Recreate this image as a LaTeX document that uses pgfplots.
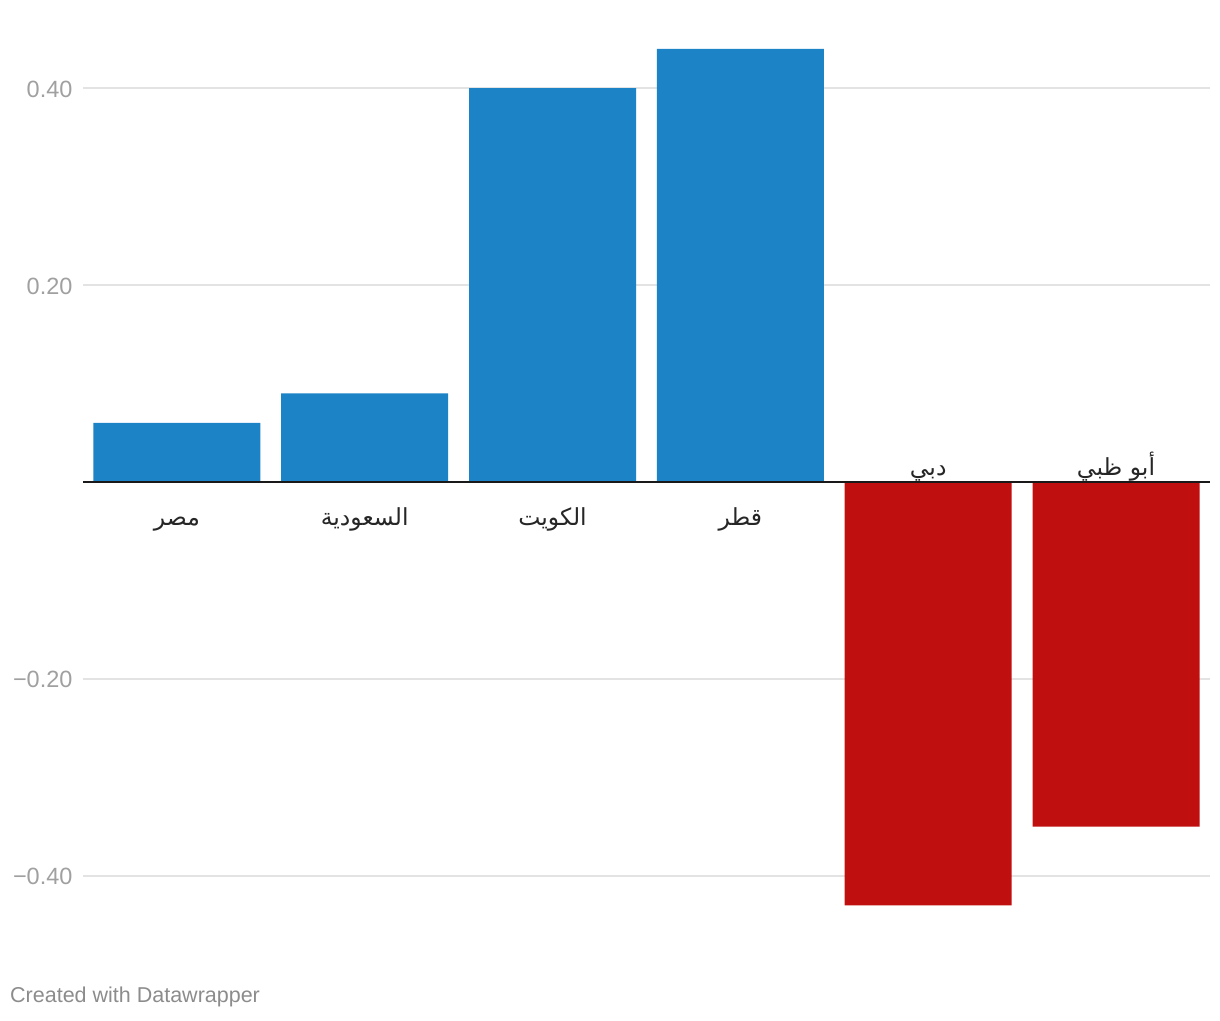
\documentclass[border=0pt]{standalone}
\usepackage{fontspec}
\setmainfont{Liberation Sans}
\newfontfamily\arabicfont[Script=Arabic]{DejaVu Sans}
\TeXXeTstate=1
\usepackage{pgfplots}
\pgfplotsset{compat=1.18}
\definecolor{barblue}{HTML}{1C83C6}
\definecolor{barred}{HTML}{C00F0F}
\definecolor{gridgray}{HTML}{E3E3E3}
\definecolor{ticktext}{HTML}{A0A0A0}
\definecolor{credit}{HTML}{8C8C8C}
\begin{document}
\begin{tikzpicture}[x=1pt,y=1pt]
\useasboundingbox (0,0) rectangle (1220,1020);
\begin{axis}[
  at={(83pt,95pt)}, anchor=south west,
  scale only axis, width=1127pt, height=886pt,
  xmin=-0.5, xmax=5.5, ymin=-0.45, ymax=0.45,
  axis line style={draw=none},
  xtick=\empty,
  ytick={-0.4,-0.2,0.2,0.4},
  yticklabels={−0.40,−0.20,0.20,0.40},
  major tick length=0pt,
  ymajorgrids, grid style={gridgray, line width=1.5pt},
  /pgf/number format/assume math mode=true,
  yticklabel style={text=ticktext, font=\fontsize{23.5}{26}\selectfont, anchor=east, xshift=-7pt, yshift=-1pt},
  ybar, bar width=167pt, bar shift=0pt,
  clip=false,
]
\addplot[fill=barblue, draw=none] coordinates {(0,0.06) (1,0.09) (2,0.40) (3,0.44)};
\addplot[fill=barred, draw=none] coordinates {(4,-0.43) (5,-0.35)};
\draw[line width=2pt, black!90] (axis cs:-0.5,0) -- (axis cs:5.5,0);
\begin{scope}[every node/.style={font=\arabicfont\fontsize{23.5}{27}\selectfont, text=black!85, anchor=base, inner sep=0pt}]
\node at ([yshift=-44pt]axis cs:0,0) {\beginR مصر\endR};
\node at ([yshift=-44pt]axis cs:1,0) {\beginR السعودية\endR};
\node at ([yshift=-44pt]axis cs:2,0) {\beginR الكويت\endR};
\node at ([yshift=-44pt]axis cs:3,0) {\beginR قطر\endR};
\node at ([yshift=6pt]axis cs:4,0) {\beginR دبي\endR};
\node at ([yshift=6pt]axis cs:5,0) {\beginR أبو ظبي\endR};
\end{scope}
\end{axis}
\node[anchor=west, text=credit, font=\fontsize{21.5}{24}\selectfont, inner sep=0pt] at (10,23) {Created with Datawrapper};
\end{tikzpicture}
\end{document}
